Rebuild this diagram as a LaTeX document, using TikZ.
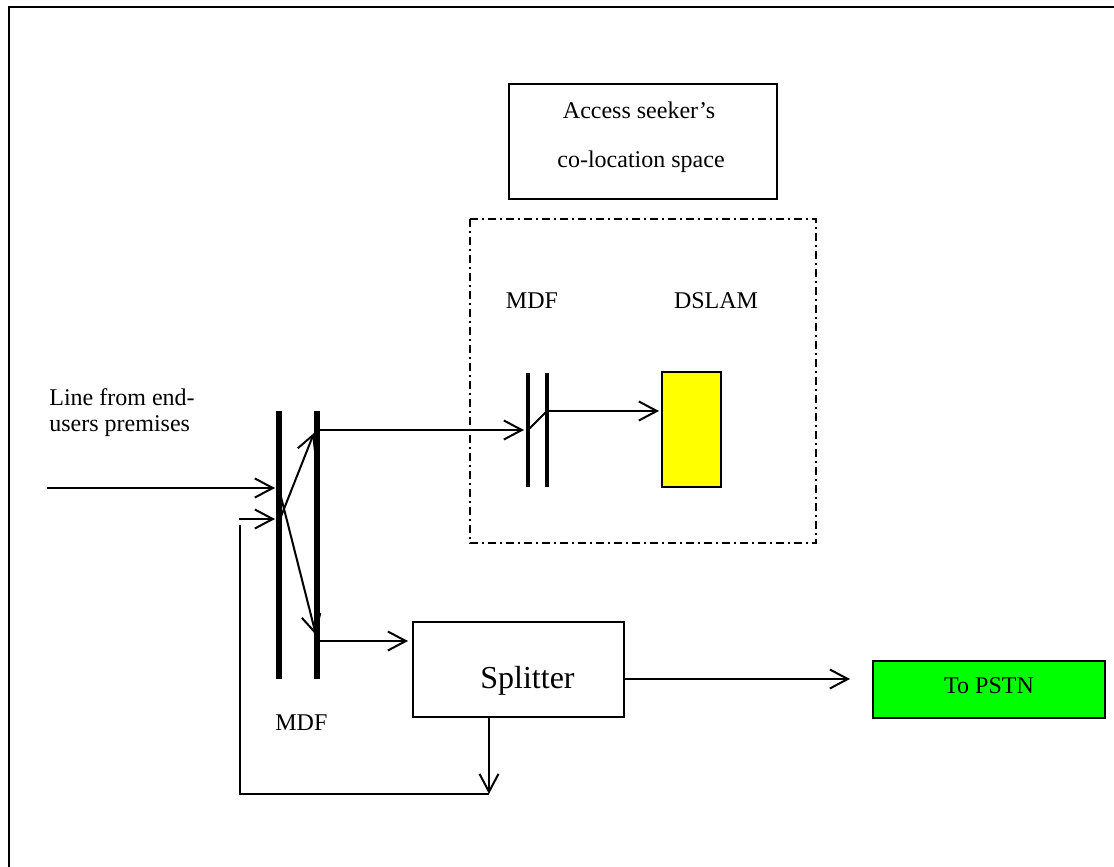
\documentclass[tikz,border=0pt]{standalone}
\usepackage{fontspec}
\setmainfont{Liberation Serif}
\usetikzlibrary{arrows.meta}
\definecolor{dslamyellow}{RGB}{255,255,0}
\definecolor{pstngreen}{RGB}{0,255,0}
\begin{document}
\begin{tikzpicture}[x=0.5pt,y=-0.5pt,
  conn/.style={line width=1pt,-{Straight Barb[length=9pt,width=9.5pt]}},
  wire/.style={line width=1pt},
  lbl/.style={inner sep=0pt,font=\fontsize{12}{13}\selectfont},
  boxed/.style={draw,line width=1pt,inner sep=0pt},
  mdfbig/.style={line width=3pt},
  mdfsmall/.style={line width=2pt},
  dashdotbox/.style={line width=1pt,dash pattern=on 4pt off 2pt on 1pt off 2pt}
  ]
\useasboundingbox (0,0) rectangle (1114,867);
% outer frame (cropped on right and bottom)
\draw[line width=1pt] (9,900) -- (9,7) -- (1130,7);

% top label box
\node[boxed,minimum width=134.4pt,minimum height=57.5pt] (acc) at (643,141.5) {};
\node[lbl,anchor=base] (acc1) at (639,118) {Access seeker’s};
\node[lbl,anchor=base] (acc2) at (641,167) {co-location space};

% co-location dash-dot area
\draw[dashdotbox] (470,219) rectangle (816,543);
\node[lbl,anchor=base] (mdf2lbl) at (532,308) {MDF};
\node[lbl,anchor=base] (dslamlbl) at (716,308) {DSLAM};

% DSLAM
\node[boxed,fill=dslamyellow,minimum width=29.2pt,minimum height=57.6pt] (dslam) at (691.5,429.7) {};

% MDF in co-location space
\coordinate (m2aT) at (528,373); \coordinate (m2aB) at (528,487);
\coordinate (m2bT) at (547,373); \coordinate (m2bB) at (547,487);
\draw[mdfsmall] (m2aT) -- (m2aB);
\draw[mdfsmall] (m2bT) -- (m2bB);

% main MDF
\coordinate (m1aT) at (279,411); \coordinate (m1aB) at (279,679);
\coordinate (m1bT) at (317,411); \coordinate (m1bB) at (317,679);
\draw[mdfbig] (m1aT) -- (m1aB);
\draw[mdfbig] (m1bT) -- (m1bB);
\node[lbl,anchor=base west] (mdf1lbl) at (275,730) {MDF};

% line label
\node[lbl,anchor=base west] (linelbl1) at (49,405) {Line from end-};
\node[lbl,anchor=base west] (linelbl2) at (49,431) {users premises};

% splitter
\node[boxed,minimum width=105.5pt,minimum height=47.5pt] (split) at (518.5,669.5) {};
\node[inner sep=0pt,anchor=base west,font=\fontsize{16}{18}\selectfont] (splitlbl) at (480,688) {Splitter};

% PSTN
\node[boxed,fill=pstngreen,minimum width=116pt,minimum height=28.6pt] (pstn) at (989,689.5) {};
\node[lbl,anchor=base] (pstnlbl) at (989,693) {To PSTN};

% connection points
\coordinate (inA) at (47,488);
\coordinate (tipA) at (275,488);
\coordinate (inB) at (239,519);
\coordinate (tipB) at (275,519);
\coordinate (xA) at (280,493);
\coordinate (xB) at (280,519);
\coordinate (upTip) at (314,433);
\coordinate (dnTip) at (316,635);
\coordinate (outUp) at (320,430);
\coordinate (m2in) at (524,430);
\coordinate (m2j) at (529,429);
\coordinate (m2out) at (547,411);
\coordinate (dslamIn) at (659,411);
\coordinate (outDn) at (320,641);
\coordinate (splitIn) at (408,641);
\coordinate (splitOut) at (624,679);
\coordinate (pstnIn) at (850,679);
\coordinate (splitBot) at (489,717);
\coordinate (retEnd) at (489,794);
\coordinate (retStart) at (240,525);
\coordinate (retCorner) at (240,794);

% connectors
\draw[conn] (inA) -- (tipA);
\draw[conn] (inB) -- (tipB);
\draw[conn] (xB) -- (upTip);
\draw[conn] (xA) -- (dnTip);
\draw[conn] (outUp) -- (m2in);
\draw[wire] (m2j) -- (m2out);
\draw[conn] (m2out) -- (dslamIn);
\draw[conn] (outDn) -- (splitIn);
\draw[conn] (splitOut) -- (pstnIn);
\draw[conn] (splitBot) -- (retEnd);
\draw[wire] (retStart) -- (retCorner) -- (retEnd);
\end{tikzpicture}
\end{document}
